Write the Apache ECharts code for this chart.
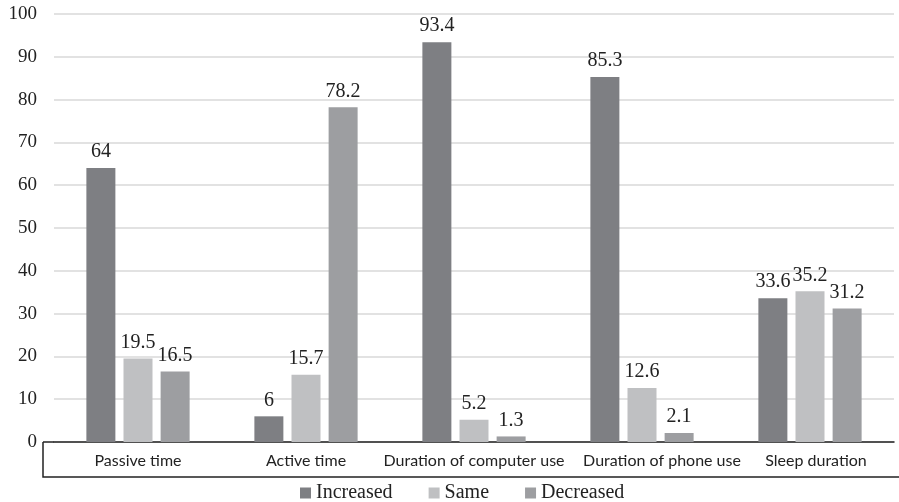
<!DOCTYPE html>
<html><head><meta charset="utf-8">
<script src="https://cdn.jsdelivr.net/npm/echarts@6/dist/echarts.min.js"></script>
<style>html,body{margin:0;padding:0;background:#fff}#c{width:899px;height:502px}</style>
</head><body><div id="c"></div>
<script>
const categories = ["Passive time", "Active time", "Duration of computer use", "Duration of phone use", "Sleep duration"];
const increased = [64, 6, 93.4, 85.3, 33.6];
const same = [19.5, 15.7, 5.2, 12.6, 35.2];
const decreased = [16.5, 78.2, 1.3, 2.1, 31.2];
const seriesNames = ["Increased", "Same", "Decreased"];
const colors = ["#7e7f83", "#bfc0c2", "#9d9ea1"];
// label nudges (left padding) to mimic the original's label placement
const labelPadLeft = [0, 0, 0, 40, 12];

const serif = "'Liberation Serif', 'Times New Roman', serif";
const chart = echarts.init(document.getElementById('c'));
const labelStyle = {show: true, position: 'top', distance: 6, fontFamily: serif, fontSize: 20, color: '#222'};
chart.setOption({
  animation: false,
  grid: {left: 54, right: 5, top: 14, bottom: 60},
  legend: {
    top: 478, left: 295, itemWidth: 11, itemHeight: 11, itemGap: 36, icon: 'rect',
    textStyle: {fontFamily: serif, fontSize: 20, color: '#222'},
    data: seriesNames
  },
  xAxis: {
    type: 'category',
    data: categories.map((c, i) => ({value: c, textStyle: {padding: [0, 0, 0, labelPadLeft[i]]}})),
    axisLine: {lineStyle: {color: '#222', width: 1.5}},
    axisTick: {show: false},
    axisLabel: {interval: 0, fontFamily: 'Lato', fontSize: 16, color: '#222', margin: 11}
  },
  yAxis: {
    type: 'value', min: 0, max: 100, interval: 10,
    axisLine: {show: false}, axisTick: {show: false},
    axisLabel: {fontFamily: serif, fontSize: 19, color: '#222', margin: 17},
    splitLine: {lineStyle: {color: '#d9d9d9', width: 1.5}}
  },
  graphic: [
    {type: 'polyline', shape: {points: [[43, 442], [43, 477], [899, 477]]}, style: {stroke: '#222', lineWidth: 1.5, fill: null}},
    {type: 'line', shape: {x1: 43, y1: 442, x2: 54, y2: 442}, style: {stroke: '#222', lineWidth: 1.5}}
  ],
  series: [
    {name: seriesNames[0], type: 'bar', data: increased, barWidth: 29, barGap: '28%', barCategoryGap: '39%', itemStyle: {color: colors[0]}, label: labelStyle},
    {name: seriesNames[1], type: 'bar', data: same, barWidth: 29, barGap: '28%', itemStyle: {color: colors[1]}, label: labelStyle},
    {name: seriesNames[2], type: 'bar', data: decreased, barWidth: 29, barGap: '28%', itemStyle: {color: colors[2]}, label: labelStyle}
  ]
});
</script></body></html>
